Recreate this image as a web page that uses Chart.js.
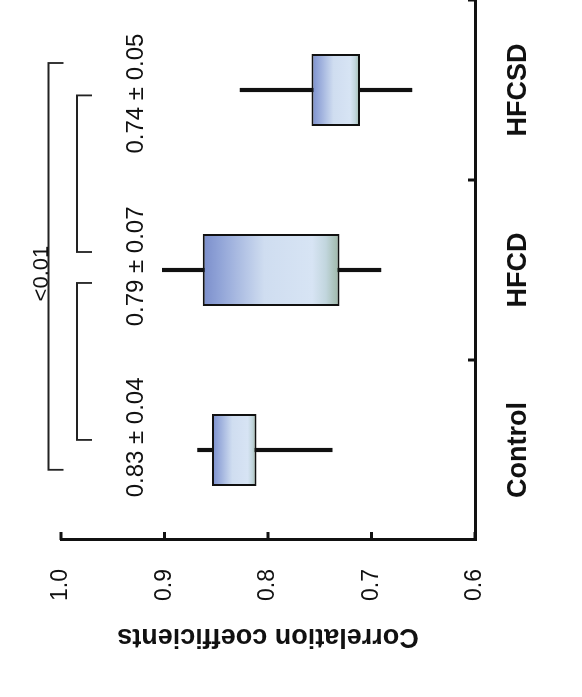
<!DOCTYPE html>
<html>
<head>
<meta charset="utf-8">
<script src="https://cdn.jsdelivr.net/npm/chart.js@4/dist/chart.umd.min.js"></script>
<style>
  html, body { margin: 0; padding: 0; background: #fff; overflow: hidden; }
  body { width: 582px; height: 697px; position: relative; }
  /* the figure is drawn upright and turned a quarter turn to the left */
  #wrap {
    position: absolute; left: 0; top: 0;
    width: 697px; height: 582px;
    transform-origin: 0 0;
    transform: translateY(697px) rotate(-90deg);
  }
</style>
</head>
<body>
<div id="wrap"><canvas id="boxChart" width="697" height="582"></canvas></div>
<script>
// data
const categories = ["Control", "HFCD", "HFCSD"];
const boxLow = [0.811, 0.731, 0.711];
const boxHigh = [0.854, 0.863, 0.758];
const whiskerLow = [0.738, 0.691, 0.661];
const whiskerHigh = [0.868, 0.902, 0.827];
const meanLabels = ["0.83 \u00b1 0.04", "0.79 \u00b1 0.07", "0.74 \u00b1 0.05"];
const valueTicks = [0.6, 0.7, 0.8, 0.9, 1.0];
const pLabel = "<0.01";

// brackets: [from category, to category, level]
const brackets = [
    [-0.11, 2.15, "outer"],
    [0.056, 0.928, "inner"],
    [1.1, 1.97, "inner"],
];

const FONT = "'Liberation Sans', Arial, sans-serif";

function boxFill(ctx) {
    const chart = ctx.chart;
    if (!chart.chartArea) return "#c8d6ee";
    const y = chart.scales.y;
    const top = y.getPixelForValue(boxHigh[ctx.dataIndex]);
    const bottom = y.getPixelForValue(boxLow[ctx.dataIndex]);
    const g = chart.ctx.createLinearGradient(0, top, 0, bottom);
    g.addColorStop(0, "#7b8ecb");
    g.addColorStop(0.12, "#90a3d7");
    g.addColorStop(0.45, "#cfddf0");
    g.addColorStop(0.8, "#d7e4f4");
    g.addColorStop(0.9, "#c2d6de");
    g.addColorStop(1, "#9db7a6");
    return g;
}

// inward tick marks, mean labels and significance brackets
const extras = {
    id: "extras",
    afterDraw(chart) {
        const { ctx, chartArea, scales } = chart;
        const x = scales.x, y = scales.y;
        ctx.save();
        ctx.strokeStyle = "#111";
        ctx.lineWidth = 3;
        valueTicks.forEach((v) => {
            const py = y.getPixelForValue(v);
            ctx.beginPath();
            ctx.moveTo(chartArea.left, py);
            ctx.lineTo(chartArea.left + 8, py);
            ctx.stroke();
        });
        [0.5, 1.5, 2.5].forEach((v) => {
            const px = x.getPixelForValue(v);
            ctx.beginPath();
            ctx.moveTo(px, chartArea.bottom);
            ctx.lineTo(px, chartArea.bottom - 7);
            ctx.stroke();
        });

        // mean +- sd labels
        const shift = [0.07, 0.02, -0.02];
        ctx.fillStyle = "#111";
        ctx.font = "24px " + FONT;
        ctx.textAlign = "center";
        ctx.textBaseline = "middle";
        meanLabels.forEach((t, i) => {
            ctx.fillText(t, x.getPixelForValue(i + shift[i]), chartArea.top + 75);
        });

        // brackets
        ctx.lineWidth = 1.8;
        ctx.strokeStyle = "#222";
        brackets.forEach(([a, b, level]) => {
            const ly = level === "outer" ? chartArea.top - 12.5 : chartArea.top + 16;
            const x0 = x.getPixelForValue(a), x1 = x.getPixelForValue(b);
            ctx.beginPath();
            ctx.moveTo(x0, ly + 15);
            ctx.lineTo(x0, ly);
            ctx.lineTo(x1, ly);
            ctx.lineTo(x1, ly + 15);
            ctx.stroke();
        });
        ctx.font = "22px " + FONT;
        ctx.fillText(pLabel, x.getPixelForValue(0.98), chartArea.top - 19.5);
        ctx.restore();
    },
};

new Chart(document.getElementById("boxChart"), {
    type: "bar",
    data: {
        labels: categories,
        datasets: [
            {
                label: "IQR",
                data: categories.map((c, i) => [boxLow[i], boxHigh[i]]),
                backgroundColor: boxFill,
                borderColor: "#111",
                borderWidth: 2,
                borderSkipped: false,
                grouped: false,
                categoryPercentage: 1,
                barPercentage: 0.4,
                order: 0,
            },
            {
                label: "Range",
                data: categories.map((c, i) => [whiskerLow[i], whiskerHigh[i]]),
                backgroundColor: "#111",
                borderWidth: 0,
                grouped: false,
                barThickness: 3.5,
                order: 1,
            },
        ],
    },
    options: {
        responsive: false,
        animation: false,
        events: [],
        layout: { padding: { top: 61, left: 0, right: 0, bottom: 0 } },
        plugins: { legend: { display: false }, tooltip: { enabled: false } },
        scales: {
            x: {
                grid: { display: true, drawOnChartArea: false, drawTicks: false },
                border: { display: true, color: "#111", width: 3 },
                ticks: {
                    color: "#111",
                    padding: 27,
                    font: { family: FONT, size: 27, weight: "bold" },
                },
                afterFit: (s) => { s.height = 107; },
            },
            y: {
                min: 0.6,
                max: 1.0,
                grid: { display: true, drawOnChartArea: false, drawTicks: false },
                border: { display: true, color: "#111", width: 3 },
                afterBuildTicks: (s) => { s.ticks = valueTicks.map((v) => ({ value: v })); },
                ticks: {
                    color: "#111",
                    padding: 29,
                    font: { family: FONT, size: 23 },
                    callback: (v) => Number(v).toFixed(1),
                },
                title: {
                    display: true,
                    text: "Correlation coefficients",
                    color: "#111",
                    padding: { top: 44, bottom: 0 },
                    font: { family: FONT, size: 27, weight: "bold" },
                },
                afterFit: (s) => { s.width = 157; },
            },
        },
    },
    plugins: [extras],
});
</script>
</body>
</html>
